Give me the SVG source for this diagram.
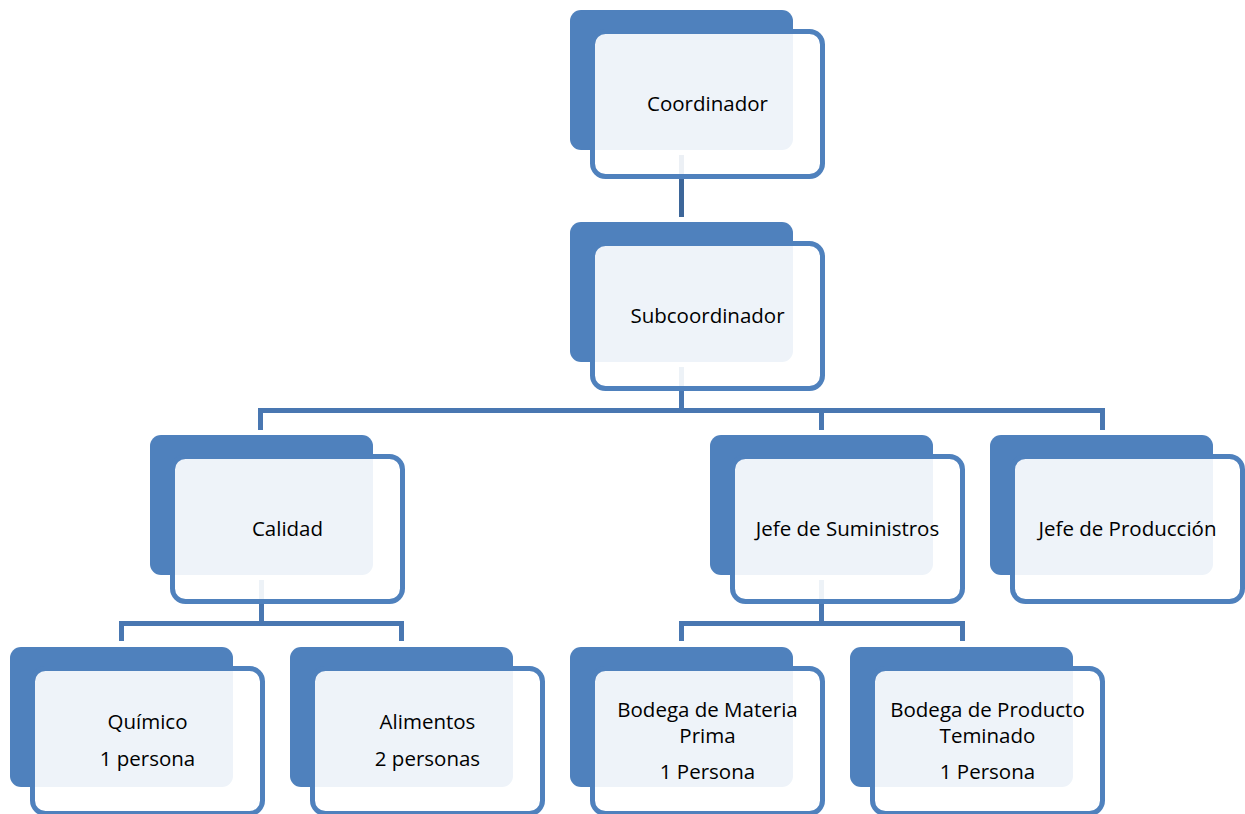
<svg xmlns="http://www.w3.org/2000/svg" width="1245" height="814" viewBox="0 0 1245 814">
  <style>
    .back { fill: #4f81bd; }
    .front { fill: #ffffff; fill-opacity: 0.9; stroke: #4f81bd; stroke-width: 5; }
    .conn { fill: none; stroke: #4977b1; stroke-width: 5; }
    .conn-dark { fill: none; stroke: #3d6699; stroke-width: 5; }
    text { font-family: "Open Sans", "Noto Sans", "Liberation Sans", sans-serif; font-size: 20.5px; fill: #000000; text-anchor: middle; }
  </style>
  <defs>
    <!-- card: solid back plate with an outlined, translucent front plate -->
    <g id="card">
      <rect class="back" x="0" y="0" width="223" height="140" rx="11"/>
      <rect class="front" x="22.5" y="21.5" width="230" height="145" rx="13"/>
    </g>
  </defs>

  <rect width="1245" height="814" fill="#ffffff"/>

  <!-- connectors (behind the cards) -->
  <g id="connectors">
    <path class="conn-dark" d="M681.5,155 V217"/>
    <path class="conn" d="M681.5,367 V410.5 M260.5,430 V410.5 H1102.5 V430 M821.5,410.5 V430"/>
    <path class="conn" d="M261.5,580 V623.5 M121.5,641 V623.5 H401.5 V641"/>
    <path class="conn" d="M821.5,580 V623.5 M681.5,641 V623.5 H962.5 V641"/>
  </g>

  <g id="coordinador">
    <use href="#card" x="570" y="10"/>
    <text x="707.5" y="111">Coordinador</text>
  </g>

  <g id="subcoordinador">
    <use href="#card" x="570" y="222"/>
    <text x="707.5" y="323">Subcoordinador</text>
  </g>

  <g id="calidad">
    <use href="#card" x="150" y="435"/>
    <text x="287.5" y="535.5">Calidad</text>
  </g>

  <g id="jefe-suministros">
    <use href="#card" x="710" y="435"/>
    <text x="847.5" y="535.5">Jefe de Suministros</text>
  </g>

  <g id="jefe-produccion">
    <use href="#card" x="990" y="435"/>
    <text x="1127.5" y="535.5">Jefe de Producción</text>
  </g>

  <g id="quimico">
    <use href="#card" x="10" y="647"/>
    <text x="147.5" y="729">Químico</text>
    <text x="147.5" y="766">1 persona</text>
  </g>

  <g id="alimentos">
    <use href="#card" x="290" y="647"/>
    <text x="427.5" y="729">Alimentos</text>
    <text x="427.5" y="766">2 personas</text>
  </g>

  <g id="bodega-materia-prima">
    <use href="#card" x="570" y="647"/>
    <text x="707.5" y="716.5">Bodega de Materia</text>
    <text x="707.5" y="743">Prima</text>
    <text x="707.5" y="779">1 Persona</text>
  </g>

  <g id="bodega-producto-terminado">
    <use href="#card" x="850" y="647"/>
    <text x="987.5" y="716.5">Bodega de Producto</text>
    <text x="987.5" y="743">Teminado</text>
    <text x="987.5" y="779">1 Persona</text>
  </g>
</svg>
